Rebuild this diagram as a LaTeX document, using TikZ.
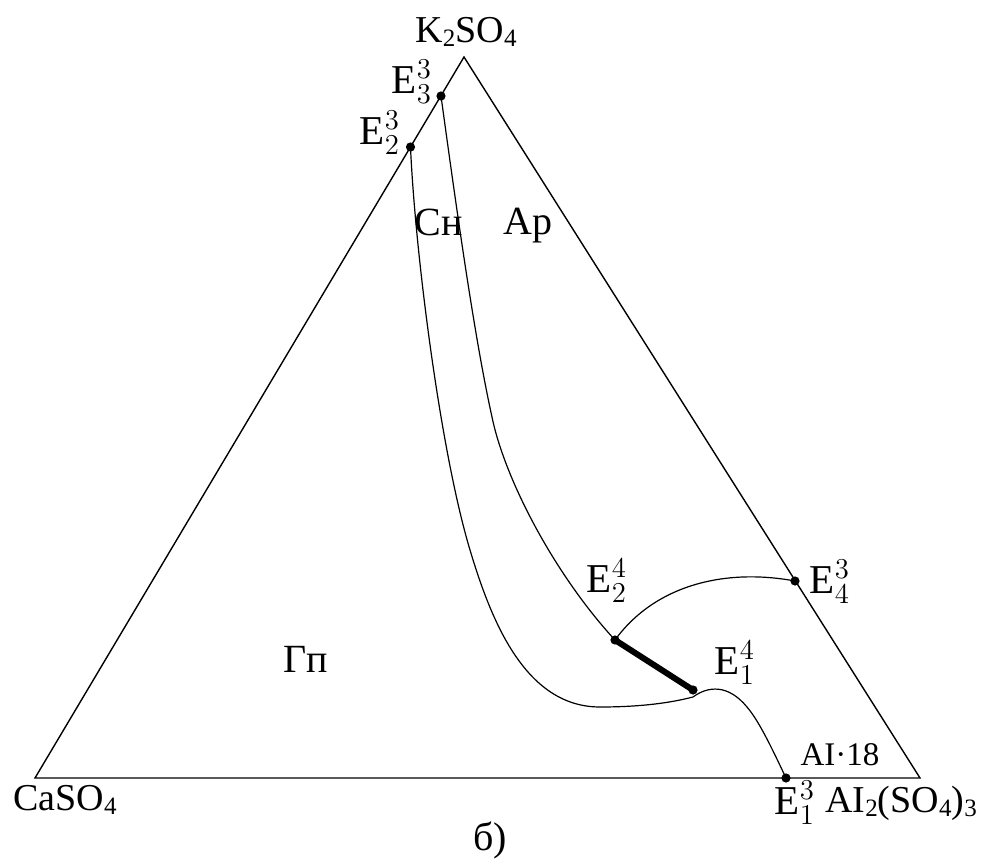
\documentclass[tikz,border=0pt]{standalone}
\usepackage{fontspec}
\setmainfont{Liberation Serif}
\newcommand{\chsub}[1]{\raisebox{-0.25ex}{\fontsize{12.5}{14}\selectfont #1}}

\tikzset{
  side/.style={line width=0.7pt},
  curve/.style={line width=0.6pt},
  tie/.style={line width=3pt, line cap=round},
  salt/.style={font=\fontsize{19}{23}\selectfont, inner sep=0pt, anchor=base},
  phase/.style={font=\fontsize{20}{24}\selectfont, inner sep=0pt, anchor=base},
  eut/.style={font=\fontsize{20.5}{24}\selectfont, inner sep=0pt},
  hydr/.style={font=\fontsize{16.5}{20}\selectfont, inner sep=0pt, anchor=base}
}

\begin{document}
\begin{tikzpicture}[x=0.5pt, y=-0.5pt]
	\useasboundingbox (0,0) rectangle (982,867);

	% vertices of the triangle
	\coordinate (Kv) at (464,57);
	\coordinate (Cav) at (35,778);
	\coordinate (Alv) at (920,778);
	\draw[side] (Cav) -- (Kv) -- (Alv) -- cycle;

	% eutectic points
	\coordinate (E33) at (441,96);
	\coordinate (E23) at (410.5,147);
	\coordinate (E24) at (615,640);
	\coordinate (E14) at (693,690);
	\coordinate (E43) at (795,581);
	\coordinate (E13) at (786,778);

	% boundary curves
	\draw[curve] (E23) .. controls (415,250) and (440,450) .. (470,550)
		.. controls (491,620) and (525,707) .. (600,707)
		.. controls (640,707) and (670,703) .. (693,697)
		.. controls (708,686) and (728,684) .. (747,707)
		.. controls (760,722) and (775,755) .. (E13);
	\draw[curve] (E33) .. controls (458,220) and (475,340) .. (492,417)
		.. controls (505,480) and (555,575) .. (E24);
	\draw[curve] (E24) .. controls (655,585) and (725,568) .. (E43);
	\draw[tie] (E24) -- (E14);

	\foreach \p in {E33,E23,E24,E14,E43,E13}
		\fill (\p) circle (2.3pt);

	% labels
	\node[salt] (kso) at (466,42) {K\chsub{2}SO\chsub{4}};
	\node[salt] (caso) at (65,810) {CaSO\chsub{4}};
	\node[salt, anchor=base west] (also) at (825,812) {AI\chsub{2}(SO\chsub{4})\chsub{3}};

	\node[eut] (lE33) at (412,82) {$\mathrm{E}^3_3$};
	\node[eut] (lE23) at (380,133) {$\mathrm{E}^3_2$};
	\node[eut] (lE24) at (607,581) {$\mathrm{E}^4_2$};
	\node[eut] (lE14) at (735,663) {$\mathrm{E}^4_1$};
	\node[eut] (lE43) at (830,582) {$\mathrm{E}^3_4$};
	\node[eut] (lE13) at (795,803) {$\mathrm{E}^3_1$};

	\node[phase] (sn) at (439,235) {Сн};
	\node[phase] (ap) at (528,234) {Ар};
	\node[phase] (gp) at (306,672) {Гп};
	\node[hydr] (al18) at (840,765) {AI·18};

	\node[phase] (cap) at (490,850) {б)};
\end{tikzpicture}
\end{document}
